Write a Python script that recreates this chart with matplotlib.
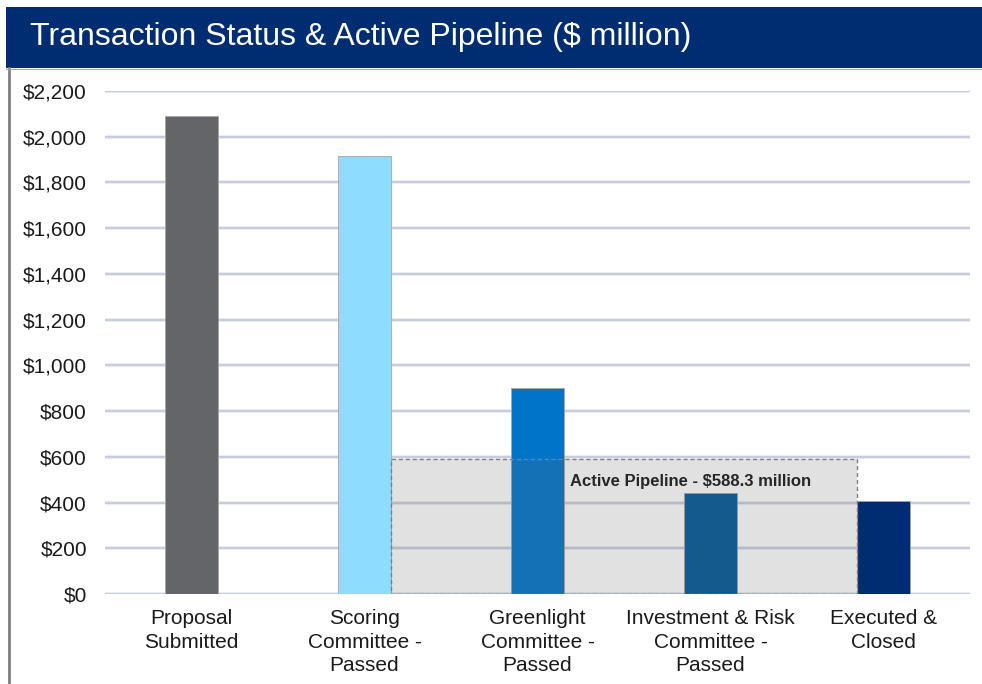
import matplotlib
matplotlib.use("Agg")
import matplotlib.pyplot as plt
from matplotlib.patches import Rectangle

# Funnel stages and their values ($ million)
stages = [
    "Proposal\nSubmitted",
    "Scoring\nCommittee -\nPassed",
    "Greenlight\nCommittee -\nPassed",
    "Investment & Risk\nCommittee -\nPassed",
    "Executed &\nClosed",
]
values = [2091, 1916, 902, 442, 407]
bar_colors = ["#636569", "#8EDCFF", "#0074C9", "#005797", "#002D72"]

y_ticks = [0, 200, 400, 600, 800, 1000, 1200, 1400, 1600, 1800, 2000, 2200]
pipeline_value = 588.3
pipeline_label = "Active Pipeline - $588.3 million"
title = "Transaction Status & Active Pipeline ($ million)"

FONT = ["Liberation Sans", "DejaVu Sans"]

W, H = 982, 684
fig = plt.figure(figsize=(W / 100, H / 100), dpi=100)
fig.patch.set_facecolor("white")

# Header banner
banner = fig.add_axes([6 / W, 1 - 68 / H, 1 - 6 / W, 61 / H])
banner.set_facecolor("#002D72")
banner.set_xticks([])
banner.set_yticks([])
for s in banner.spines.values():
    s.set_visible(False)
banner.text(24 / (W - 6), 0.5, title, color="white", fontsize=23,
            family=["Liberation Sans Narrow"] + FONT,
            va="center", ha="left", transform=banner.transAxes)

# Left frame rule
fig.add_artist(plt.Line2D([8.5 / W, 8.5 / W], [0, 1 - 68 / H],
                          color="#7F7F7F", lw=2, transform=fig.transFigure))
fig.add_artist(plt.Line2D([6 / W, 1], [1 - 68.5 / H, 1 - 68.5 / H],
                          color="#A6A6A6", lw=0.8, transform=fig.transFigure))

ax = fig.add_axes([105 / W, 90 / H, 865 / W, (594 - 91) / H])
x = list(range(len(stages)))
bw = 0.312

for t in y_ticks:
    ax.axhline(t, color="#E6E8F0", lw=2.6, zorder=0.5)
    ax.axhline(t, color="#BEC5D9", lw=1.1, zorder=0.6)

ax.bar(x, values, width=bw, color=bar_colors, edgecolor="#A6A6A6",
       linewidth=0.6, zorder=2)

# Shaded band spanning the active pipeline stages
x0 = x[1] + bw / 2
x1 = x[4] - bw / 2
ax.add_patch(Rectangle((x0, 0), x1 - x0, pipeline_value,
                       facecolor="#696969", alpha=0.2, edgecolor="none", zorder=3))
ax.add_patch(Rectangle((x0, 0), x1 - x0, pipeline_value,
                       facecolor="none", edgecolor="#7F7F7F", lw=1.0,
                       linestyle=(0, (3, 2)), zorder=3.5))
ax.text(2.887, 494, pipeline_label, ha="center", va="center",
        fontsize=12, fontweight="bold", color="#262626",
        family=FONT, zorder=4)

ax.set_xlim(-0.5, 4.5)
ax.set_ylim(0, 2200)
ax.set_yticks(y_ticks)
ax.set_yticklabels([f"${v:,}" for v in y_ticks],
                   family=FONT, fontsize=15, color="#1A1A1A")
ax.set_xticks(x)
ax.set_xticklabels(stages, family=FONT, fontsize=15,
                   color="#1A1A1A", linespacing=1.3)
ax.tick_params(axis="both", length=0)
ax.tick_params(axis="y", pad=13)
ax.tick_params(axis="x", pad=11)
for s in ax.spines.values():
    s.set_visible(False)
ax.set_facecolor("none")

fig.savefig("out.png", dpi=100)
